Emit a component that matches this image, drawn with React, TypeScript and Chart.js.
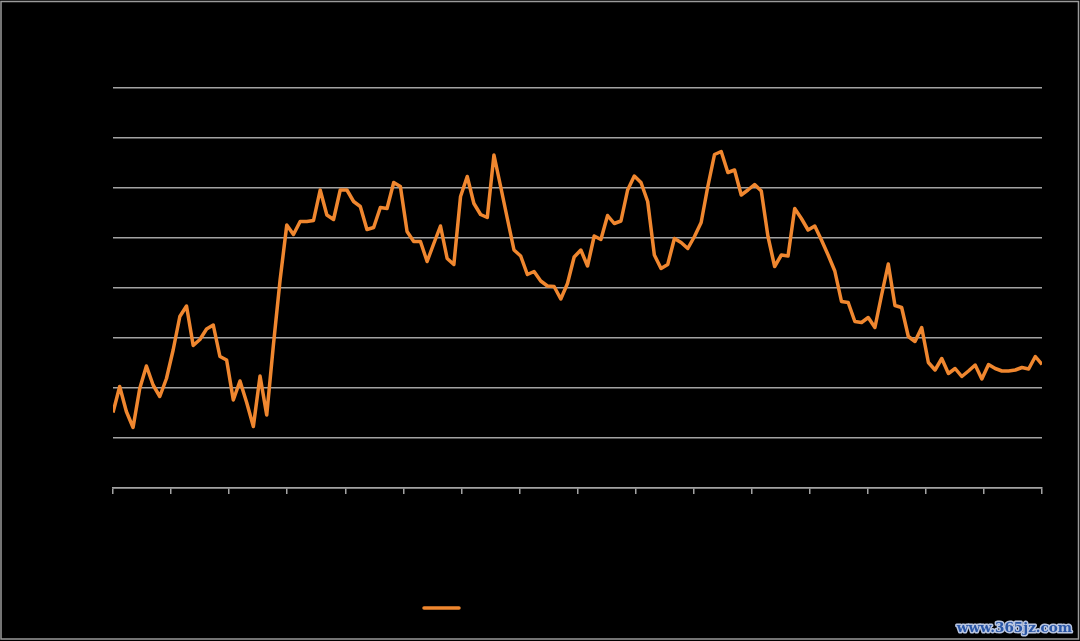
import React, { useEffect, useRef } from "react";
import { Chart, registerables } from "chart.js";

Chart.register(...registerables);

// Series values (y axis 0..80, eight gridline bands), one point per period
const seriesValues: number[] = [
  15.1, 20.3, 15.3, 12.1, 19.9, 24.4, 20.6, 18.3, 21.9, 27.6,
  34.3, 36.4, 28.5, 29.7, 31.8, 32.6, 26.3, 25.6, 17.6, 21.4,
  17.1, 12.3, 22.4, 14.6, 28.6, 41.6, 52.6, 50.7, 53.3, 53.3,
  53.5, 59.6, 54.6, 53.7, 59.6, 59.6, 57.3, 56.3, 51.7, 52.1,
  56.1, 55.9, 61.1, 60.3, 51.3, 49.3, 49.3, 45.3, 48.9, 52.4,
  45.9, 44.7, 58.3, 62.3, 56.9, 54.7, 54.1, 66.6, 60.3, 53.9,
  47.6, 46.4, 42.7, 43.3, 41.4, 40.4, 40.3, 37.8, 40.9, 46.2,
  47.6, 44.4, 50.4, 49.7, 54.5, 52.9, 53.4, 59.6, 62.4, 61.1,
  57.3, 46.6, 43.9, 44.7, 49.9, 49.1, 47.9, 50.3, 53.1, 60.3,
  66.7, 67.3, 63.1, 63.6, 58.6, 59.6, 60.7, 59.4, 50.3, 44.3,
  46.6, 46.4, 55.9, 53.9, 51.6, 52.4, 49.6, 46.6, 43.4, 37.3,
  37.1, 33.3, 33.1, 34.1, 32.1, 38.6, 44.8, 36.5, 36.1, 30.3,
  29.3, 32.1, 25.1, 23.6, 25.9, 22.9, 23.9, 22.3, 23.4, 24.6,
  21.8, 24.7, 23.9, 23.4, 23.4, 23.6, 24.1, 23.8, 26.3, 24.7,
];

const seriesLabel = "Series";
const yMin = 0;
const yMax = 80;
const yStep = 10;
const xTickDivisions = 16;
const watermark = "www.365jz.com";

const ORANGE = "#f0872f";
const GRID = "#a3a3a3";

export default function App() {
  const canvasRef = useRef<HTMLCanvasElement | null>(null);

  useEffect(() => {
    document.body.style.margin = "0";
    const canvas = canvasRef.current;
    if (!canvas) return;

    const points = seriesValues.map((v, i) => ({ x: i, y: v }));
    const lastIndex = seriesValues.length - 1;

    const decor = {
      id: "decor",
      beforeDraw(chart: any) {
        const ctx = chart.ctx;
        ctx.save();
        ctx.fillStyle = "#000";
        ctx.fillRect(0, 0, chart.width, chart.height);
        ctx.restore();
      },
      afterDraw(chart: any) {
        const ctx = chart.ctx;
        ctx.save();
        // outer frame
        ctx.strokeStyle = "#9a9a9a";
        ctx.lineWidth = 1.5;
        ctx.strokeRect(1, 1.5, chart.width - 2.5, chart.height - 3.5);
        // legend
        ctx.strokeStyle = ORANGE;
        ctx.lineWidth = 3.5;
        ctx.lineCap = "round";
        ctx.beginPath();
        ctx.moveTo(424, 608);
        ctx.lineTo(459, 608);
        ctx.stroke();
        ctx.fillStyle = "#000";
        ctx.font = "13px 'Liberation Sans', sans-serif";
        ctx.textBaseline = "middle";
        ctx.fillText(seriesLabel, 466, 608);
        // watermark
        ctx.font = "bold 13.5px 'DejaVu Serif', serif";
        ctx.textAlign = "right";
        ctx.textBaseline = "alphabetic";
        ctx.lineJoin = "round";
        ctx.strokeStyle = "#b9c6e2";
        ctx.lineWidth = 3;
        ctx.strokeText(watermark, 1072, 632);
        ctx.fillStyle = "#2a56a6";
        ctx.fillText(watermark, 1072, 632);
        ctx.restore();
      },
    };

    const chart = new Chart(canvas, {
      type: "line",
      data: {
        datasets: [
          {
            label: seriesLabel,
            data: points,
            borderColor: ORANGE,
            backgroundColor: ORANGE,
            borderWidth: 3.5,
            pointRadius: 0,
            tension: 0,
            borderJoinStyle: "round",
          },
        ],
      },
      options: {
        animation: false,
        responsive: false,
        maintainAspectRatio: false,
        layout: { padding: { left: 113, right: 38, top: 88, bottom: 147 } },
        plugins: {
          legend: { display: false },
          tooltip: { enabled: false },
        },
        scales: {
          x: {
            type: "linear",
            min: 0,
            max: lastIndex,
            afterBuildTicks: (axis: any) => {
              const t = [];
              for (let k = 0; k <= xTickDivisions; k++) {
                t.push({ value: (lastIndex * k) / xTickDivisions });
              }
              axis.ticks = t;
            },
            ticks: { display: false },
            grid: {
              drawOnChartArea: false,
              drawTicks: true,
              tickLength: 6,
              color: GRID,
              lineWidth: 1.5,
            },
            border: { display: true, color: GRID, width: 1.5 },
          },
          y: {
            min: yMin,
            max: yMax,
            ticks: { display: false, stepSize: yStep },
            grid: {
              drawTicks: false,
              color: GRID,
              lineWidth: 1.5,
            },
            border: { display: false },
          },
        },
      },
      plugins: [decor],
    });

    return () => chart.destroy();
  }, []);

  return (
    <div style={{ position: "absolute", left: 0, top: 0, width: 1080, height: 641, background: "#000" }}>
      <canvas ref={canvasRef} width={1080} height={641} style={{ display: "block" }} />
    </div>
  );
}
